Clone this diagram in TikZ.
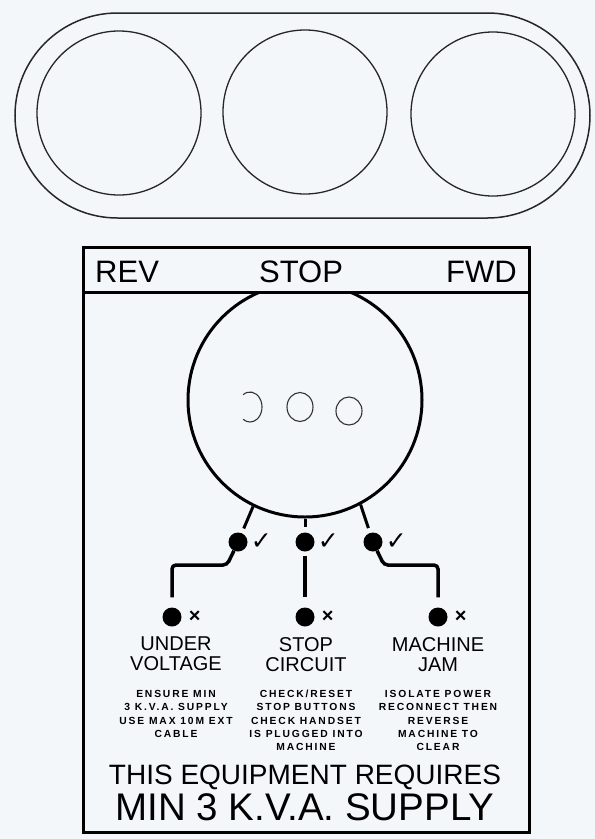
\documentclass[tikz,border=0pt]{standalone}
\usepackage{fontspec}
\setmainfont{Liberation Sans}
\newfontfamily\symfont{DejaVu Sans}
\newfontfamily\notefont[LetterSpace=18]{Liberation Sans}
\usepackage{tikz}
\usetikzlibrary{positioning}
\definecolor{paper}{RGB}{244,247,250}

\begin{document}
\begin{tikzpicture}[
    x=1pt, y=-1pt,
    % lamp housing and panel
    lamp_ring/.style={circle, draw=black!85, line width=1.3pt, minimum size=164pt, inner sep=0pt},
    panel_line/.style={draw=black, line width=3pt},
    dial_ring/.style={circle, draw=black, line width=3pt, minimum size=234pt, inner sep=0pt},
    hole/.style={draw=black!80, line width=1.1pt},
    % indicator dots and wiring
    ok_dot/.style={circle, fill=black, minimum size=19pt, inner sep=0pt},
    fault_dot/.style={circle, fill=black, minimum size=19pt, inner sep=0pt},
    wire/.style={draw=black, line width=3.5pt},
    tick_mark/.style={font=\symfont\fontsize{25}{25}\selectfont, inner sep=0pt},
    cross_mark/.style={font=\bfseries\fontsize{20}{20}\selectfont, inner sep=0pt},
    % labels
    head_label/.style={font=\fontsize{31}{31}\selectfont, inner sep=0pt},
    fault_label/.style={font=\fontsize{20}{20}\selectfont, align=center, inner sep=0pt, anchor=north},
    note_block/.style={font=\notefont\bfseries\fontsize{10.3}{13.3}\selectfont, align=center, inner sep=0pt, anchor=north}
]

    % --- 1. BACKGROUND ---
    \fill[paper] (0,0) rectangle (595,839);
    \useasboundingbox (0,0) rectangle (595,839);

    % --- 2. LAMP HOUSING ---
    \draw[line width=1.5pt, draw=black!85, rounded corners=102.5pt] (15,13) rectangle (590,218);
    \node[lamp_ring] (lamp_rev)  at (119,113) {};
    \node[lamp_ring] (lamp_stop) at (305,112) {};
    \node[lamp_ring] (lamp_fwd)  at (493,114) {};

    % --- 3. PANEL AND HEADER ---
    \draw[panel_line] (83,247) rectangle (529,832);
    \draw[panel_line] (83,292) -- (529,292);
    \node[head_label, anchor=base west] (rev)  at (95,282)  {REV};
    \node[head_label, anchor=base]      (stop) at (301,282) {STOP};
    \node[head_label, anchor=base east] (fwd)  at (517,282) {FWD};

    % --- 4. DIAL ---
    \begin{scope}
        \clip (83,292) rectangle (529,832);
        \node[dial_ring] (dial) at (305,400) {};
    \end{scope}
    \draw[hole] (250,407) ++(-125:12 and 15) arc[start angle=-125, end angle=125, x radius=12, y radius=15];
    \draw[hole] (300,407) ellipse[x radius=13, y radius=14.5];
    \draw[hole] (349,411) ellipse[x radius=13, y radius=14];

    % --- 5. INDICATOR DOTS ---
    \node[ok_dot] (ok_uv) at (238,542) {};
    \node[ok_dot] (ok_sc) at (305,542) {};
    \node[ok_dot] (ok_mj) at (373,542) {};
    \node[fault_dot] (fault_uv) at (172,617) {};
    \node[fault_dot] (fault_sc) at (305,617) {};
    \node[fault_dot] (fault_mj) at (438,617) {};

    \node[tick_mark, right=3pt of ok_uv] (tick_uv) {✓};
    \node[tick_mark, right=3pt of ok_sc] (tick_sc) {✓};
    \node[tick_mark, right=3pt of ok_mj] (tick_mj) {✓};
    \node[cross_mark, right=7pt of fault_uv] (cross_uv) {×};
    \node[cross_mark, right=7pt of fault_sc] (cross_sc) {×};
    \node[cross_mark, right=7pt of fault_mj] (cross_mj) {×};

    % --- 6. WIRING ---
    \draw[line width=3pt, shorten >=5pt] (dial.244) -- (ok_uv);
    \draw[line width=3pt, shorten >=5pt] (dial.south) -- (ok_sc);
    \draw[line width=3pt, shorten >=5pt] (dial.298) -- (ok_mj);

    \coordinate (bend_uv) at (227,565);
    \coordinate (bend_mj) at (384,565);
    \draw[wire, rounded corners=4pt, shorten >=10pt] (ok_uv.245) -- (bend_uv) -- (bend_uv -| fault_uv) -- (fault_uv);
    \draw[wire, shorten <=4pt, shorten >=10pt] (ok_sc) -- (fault_sc);
    \draw[wire, rounded corners=4pt, shorten >=10pt] (ok_mj.295) -- (bend_mj) -- (bend_mj -| fault_mj) -- (fault_mj);

    % --- 7. FAULT LABELS ---
    \node[fault_label] (lbl_uv) at (176,637) {UNDER\\VOLTAGE};
    \node[fault_label] (lbl_sc) at (306,637) {STOP\\CIRCUIT};
    \node[fault_label] (lbl_mj) at (438,637) {MACHINE\\JAM};

    \node[note_block] (note_uv) at (176,690) {ENSURE MIN\\3 K.V.A. SUPPLY\\USE MAX 10M EXT\\CABLE};
    \node[note_block] (note_sc) at (306,690) {CHECK/RESET\\STOP BUTTONS\\CHECK HANDSET\\IS PLUGGED INTO\\MACHINE};
    \node[note_block] (note_mj) at (438,690) {ISOLATE POWER\\RECONNECT THEN\\REVERSE\\MACHINE TO\\CLEAR};

    % --- 8. SUPPLY NOTICE ---
    \node[anchor=base, font=\fontsize{28}{30}\selectfont, inner sep=0pt] (req)    at (305,784) {THIS EQUIPMENT REQUIRES};
    \node[anchor=base, font=\fontsize{38.5}{40}\selectfont, inner sep=0pt] (supply) at (305,820) {MIN 3 K.V.A. SUPPLY};

\end{tikzpicture}
\end{document}
